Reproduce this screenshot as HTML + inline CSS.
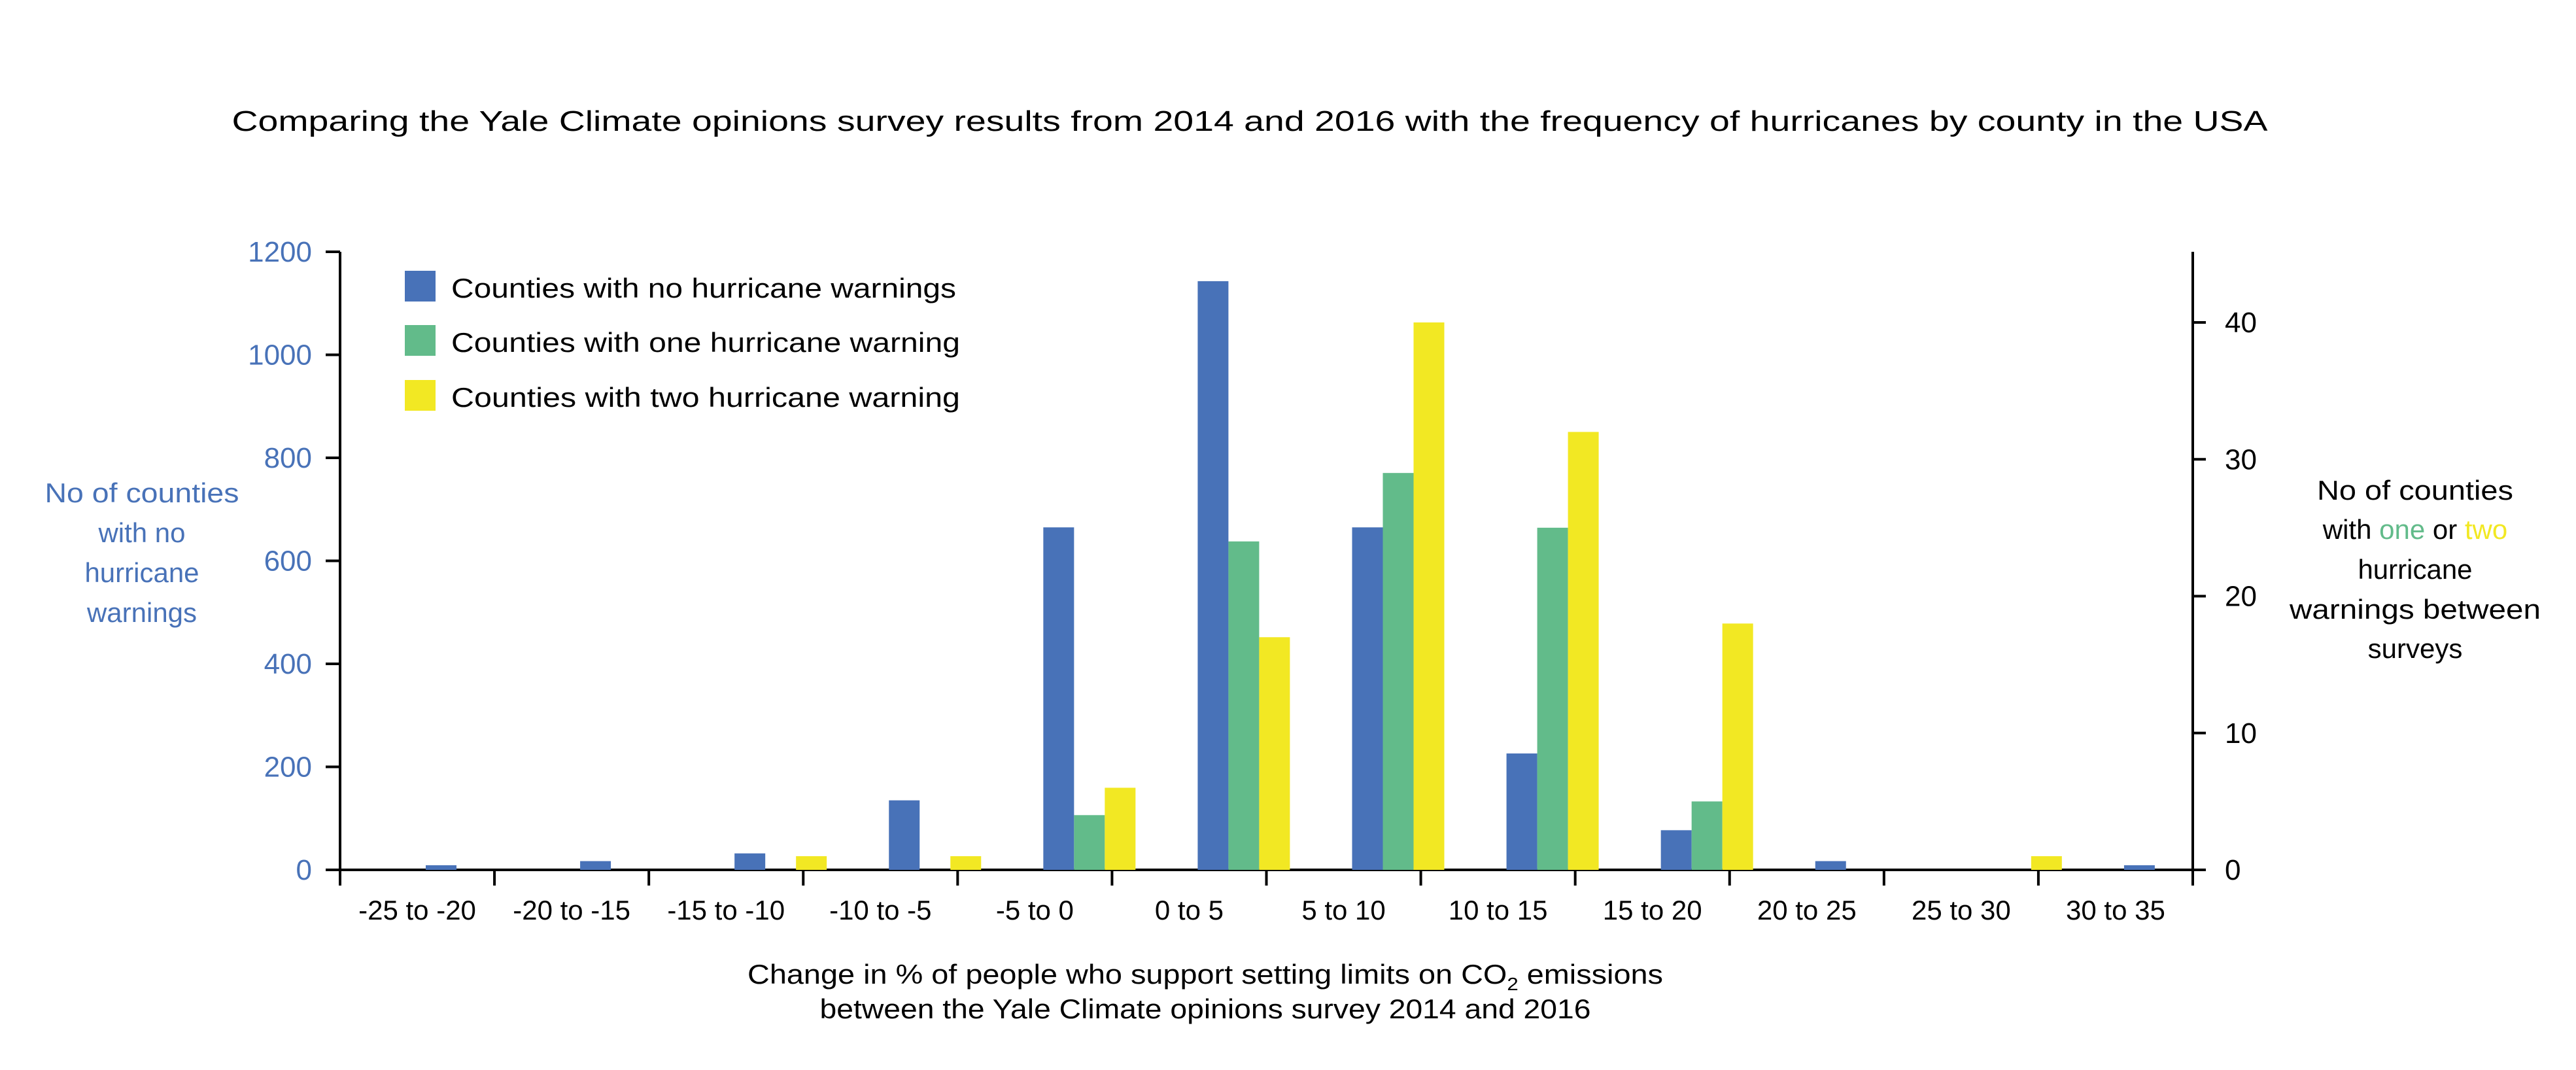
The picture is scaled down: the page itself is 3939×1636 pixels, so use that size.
<!DOCTYPE html>
<html><head><meta charset="utf-8"><style>
html,body{margin:0;padding:0;background:#fff;}
svg{display:block;}
text{font-family:"Liberation Sans",sans-serif;}
</style></head><body>
<svg id="chart" width="3939" height="1636" viewBox="0 0 3939 1636" xmlns="http://www.w3.org/2000/svg">
<text x="1911" y="200" font-size="44" text-anchor="middle" textLength="3113" lengthAdjust="spacingAndGlyphs">Comparing the Yale Climate opinions survey results from 2014 and 2016 with the frequency of hurricanes by county in the USA</text>
<g id="axes"></g>
<g id="bars"></g>
<g>
<rect x="619" y="414" width="47" height="47" fill="#4872b8"/>
<text x="690" y="455" font-size="42" textLength="772" lengthAdjust="spacingAndGlyphs">Counties with no hurricane warnings</text>
<rect x="619" y="497" width="47" height="47" fill="#62bb8a"/>
<text x="690" y="538" font-size="42" textLength="778" lengthAdjust="spacingAndGlyphs">Counties with one hurricane warning</text>
<rect x="619" y="581" width="47" height="47" fill="#f2e823"/>
<text x="690" y="622" font-size="42" textLength="778" lengthAdjust="spacingAndGlyphs">Counties with two hurricane warning</text>
</g>
<g fill="#4872b8" font-size="42" text-anchor="middle">
<text x="217" y="768" textLength="297" lengthAdjust="spacingAndGlyphs">No of counties</text>
<text x="217" y="829">with no</text>
<text x="217" y="890">hurricane</text>
<text x="217" y="951">warnings</text>
</g>
<g font-size="42" text-anchor="middle">
<text x="3693" y="764" textLength="300" lengthAdjust="spacingAndGlyphs">No of counties</text>
<text x="3693" y="824">with <tspan fill="#62bb8a">one</tspan> or <tspan fill="#f2e823">two</tspan></text>
<text x="3693" y="885">hurricane</text>
<text x="3693" y="946" textLength="384" lengthAdjust="spacingAndGlyphs">warnings between</text>
<text x="3693" y="1006">surveys</text>
</g>
<g font-size="42" text-anchor="middle">
<text x="1843" y="1504" textLength="1400" lengthAdjust="spacingAndGlyphs">Change in % of people who support setting limits on CO<tspan font-size="28" dy="10">2</tspan><tspan dy="-10"> emissions</tspan></text>
<text x="1843" y="1557" textLength="1179" lengthAdjust="spacingAndGlyphs">between the Yale Climate opinions survey 2014 and 2016</text>
</g>
</svg>
<script>
const categories = ["-25 to -20","-20 to -15","-15 to -10","-10 to -5","-5 to 0","0 to 5","5 to 10","10 to 15","15 to 20","20 to 25","25 to 30","30 to 35"];
const noWarnings = [9,17,32,135,665,1143,665,226,77,17,0,9];
const oneWarning = [0,0,0,0,4,24,29,25,5,0,0,0];
const twoWarnings = [0,0,1,1,6,17,40,32,18,0,1,0];
const leftTicks = [0,200,400,600,800,1000,1200];
const rightTicks = [0,10,20,30,40];

const NS = "http://www.w3.org/2000/svg";
const X0 = 520, X1 = 3353, Y0 = 1330;
const catW = (X1 - X0) / categories.length;
const yLeft = v => Y0 - v * (Y0 - 385) / 1200;
const yRight = v => Y0 - v * (Y0 - 493) / 40;
const xCat = i => X0 + i * catW;

function mk(tag, attrs, parent) {
  const el = document.createElementNS(NS, tag);
  for (const k in attrs) el.setAttribute(k, attrs[k]);
  parent.appendChild(el);
  return el;
}
const axes = document.getElementById('axes');
const bars = document.getElementById('bars');

let el = mk('line', {x1: X0, y1: 385, x2: X0, y2: Y0 + 24, stroke: '#000', 'stroke-width': 4}, axes);


el = mk('line', {x1: X1, y1: 385, x2: X1, y2: Y0 + 24, stroke: '#000', 'stroke-width': 4}, axes);


el = mk('line', {x1: X0 - 22, y1: Y0, x2: X1 + 20, y2: Y0, stroke: '#000', 'stroke-width': 4}, axes);



leftTicks.forEach(v => {
  const y = yLeft(v);
  const t = mk('line', {x1: X0 - 22, y1: y, x2: X0, y2: y, stroke: '#000', 'stroke-width': 4}, axes);
  
  
  const l = mk('text', {x: 477, y: y + 15, 'font-size': 44, fill: '#4872b8', 'text-anchor': 'end'}, axes);
  l.textContent = v;
  
  
});
rightTicks.forEach(v => {
  const y = yRight(v);
  const t = mk('line', {x1: X1, y1: y, x2: X1 + 20, y2: y, stroke: '#000', 'stroke-width': 4}, axes);
  
  
  const l = mk('text', {x: 3402, y: y + 15, 'font-size': 44, fill: '#000'}, axes);
  l.textContent = v;
  
  
});
for (let i = 0; i <= categories.length; i++) {
  const t = mk('line', {x1: xCat(i), y1: Y0, x2: xCat(i), y2: Y0 + 24, stroke: '#000', 'stroke-width': 4}, axes);
  
  
}
categories.forEach((c, i) => {
  const l = mk('text', {x: xCat(i) + catW / 2, y: 1406, 'font-size': 42, 'text-anchor': 'middle'}, axes);
  l.textContent = c;
  
  
});

const BW = 47, OFF = 131;
categories.forEach((c, i) => {
  const bx = xCat(i) + OFF;
  let r = mk('rect', {x: bx, y: yLeft(noWarnings[i]), width: BW, height: Y0 - yLeft(noWarnings[i]), fill: '#4872b8'}, bars);
  
  
  r = mk('rect', {x: bx + BW, y: yRight(oneWarning[i]), width: BW, height: Y0 - yRight(oneWarning[i]), fill: '#62bb8a'}, bars);
  
  
  r = mk('rect', {x: bx + 2 * BW, y: yRight(twoWarnings[i]), width: BW, height: Y0 - yRight(twoWarnings[i]), fill: '#f2e823'}, bars);
  
  
});
</script>
</body></html>
